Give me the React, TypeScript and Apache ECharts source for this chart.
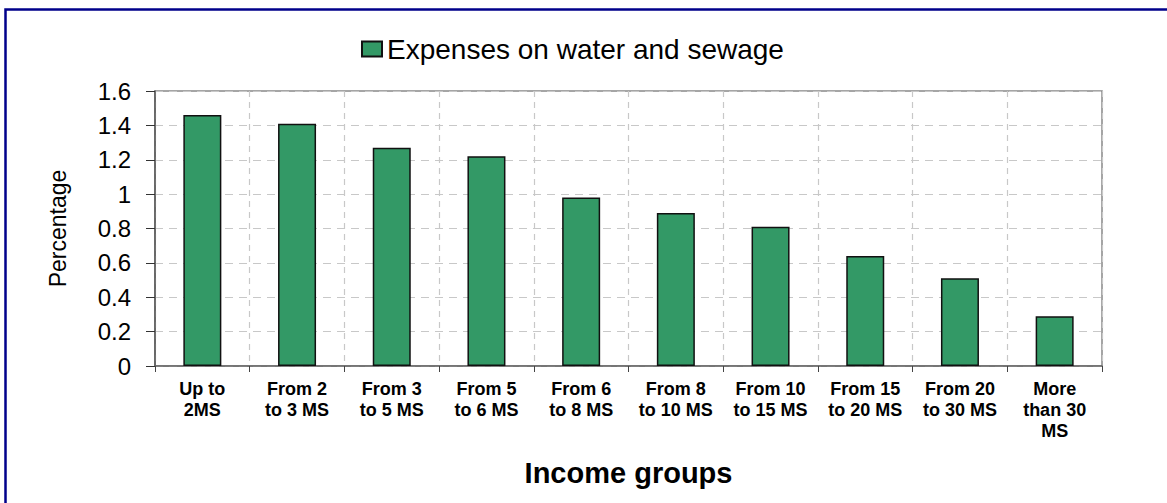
import React, { useEffect, useRef } from "react";
import * as echarts from "echarts";

const categories = [
  "Up to\n2MS",
  "From 2\nto 3 MS",
  "From 3\nto 5 MS",
  "From 5\nto 6 MS",
  "From 6\nto 8 MS",
  "From 8\nto 10 MS",
  "From 10\nto 15 MS",
  "From 15\nto 20 MS",
  "From 20\nto 30 MS",
  "More\nthan 30\nMS",
];
const seriesName = "Expenses on water and sewage";
const values = [1.46, 1.41, 1.27, 1.22, 0.98, 0.89, 0.81, 0.64, 0.51, 0.29];
const yMin = 0;
const yMax = 1.6;
const yInterval = 0.2;

export default function App() {
  const ref = useRef<HTMLDivElement>(null);
  useEffect(() => {
    if (!ref.current) return;
    const chart = echarts.init(ref.current, undefined, { renderer: "svg" });
    const font = "'Liberation Sans', Arial, sans-serif";
    chart.setOption({
      animation: false,
      backgroundColor: "#ffffff",
      textStyle: { fontFamily: font },
      graphic: [
        {
          type: "rect",
          shape: { x: 5.5, y: 9.5, width: 1300, height: 700 },
          style: { fill: "none", stroke: "#00008b", lineWidth: 2.5 },
          silent: true,
        },
      ],
      legend: {
        left: 356,
        top: 30,
        itemWidth: 20,
        itemHeight: 15,
        itemGap: 10,
        icon: "rect",
        textStyle: { fontSize: 28, color: "#000", fontFamily: font },
        data: [seriesName],
      },
      grid: {
        left: 155,
        right: 65,
        top: 91,
        bottom: 137,
        show: true,
        borderColor: "#888",
        borderWidth: 1.5,
        backgroundColor: "transparent",
      },
      xAxis: {
        type: "category",
        data: categories,
        boundaryGap: true,
        name: "Income groups",
        nameLocation: "middle",
        nameGap: 92,
        nameTextStyle: { fontSize: 29, fontWeight: "bold", color: "#000", fontFamily: font },
        axisLine: { lineStyle: { color: "#666", width: 1.5 } },
        axisTick: { show: true, length: 6, alignWithLabel: false, lineStyle: { color: "#444" } },
        axisLabel: {
          interval: 0,
          fontSize: 18,
          fontWeight: "bold",
          color: "#000",
          lineHeight: 21,
          margin: 12,
          fontFamily: font,
        },
        splitLine: { show: true, lineStyle: { color: "#c8c8c8", type: [6, 5], width: 1.2 } },
      },
      yAxis: {
        type: "value",
        min: yMin,
        max: yMax,
        interval: yInterval,
        name: "Percentage",
        nameLocation: "middle",
        nameGap: 86,
        nameTextStyle: { fontSize: 23, color: "#000", fontFamily: font },
        axisLine: { show: true, lineStyle: { color: "#555", width: 1.5 } },
        axisTick: { show: true, length: 9, lineStyle: { color: "#333" } },
        axisLabel: {
          fontSize: 24,
          color: "#000",
          margin: 24,
          fontFamily: font,
          formatter: (v: number) => String(+v.toFixed(1)),
        },
        splitLine: { show: true, lineStyle: { color: "#c8c8c8", type: [8, 6], width: 1.2 } },
      },
      series: [
        {
          name: seriesName,
          type: "bar",
          data: values,
          barWidth: 38,
          itemStyle: { color: "#339966", borderColor: "#111", borderWidth: 1.5 },
        },
      ],
    });
    return () => chart.dispose();
  }, []);
  return <div ref={ref} style={{ width: 1167, height: 503, position: "absolute", left: 0, top: 0 }} />;
}
